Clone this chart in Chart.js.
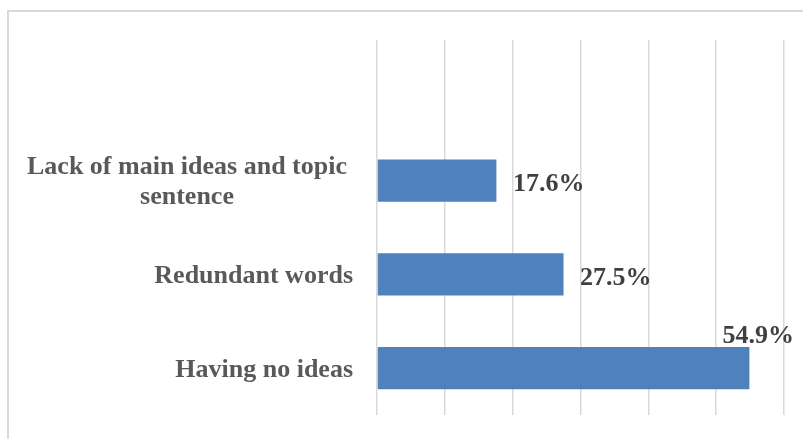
<!DOCTYPE html>
<html>
<head>
<meta charset="utf-8">
<script src="https://cdn.jsdelivr.net/npm/chart.js@4.4.1/dist/chart.umd.min.js"></script>
<style>
  html, body { margin: 0; padding: 0; background: #ffffff; overflow: hidden; width: 803px; height: 439px; }
  #frame { position: absolute; left: 7px; top: 10px; width: 900px; height: 600px;
           border-top: 2px solid #d9d9d9; border-left: 2px solid #d9d9d9; }
  #c { position: absolute; left: 0; top: 0; }
</style>
</head>
<body>
<div id="frame"></div>
<canvas id="c" width="803" height="439"></canvas>
<script>
// Data (top to bottom; first slot is an empty category in the original)
const categories = ["", ["Lack of main ideas and topic", "sentence"], "Redundant words", "Having no ideas"];
const values = [null, 17.6, 27.5, 54.9];
const axisTicks = [0, 10, 20, 30, 40, 50, 60];

const FONT = '"Liberation Serif", "Times New Roman", Times, serif';

const labelsPlugin = {
  id: 'customLabels',
  afterDatasetsDraw(chart) {
    const ctx = chart.ctx;
    const meta = chart.getDatasetMeta(0);
    const yScale = chart.scales.y;
    ctx.save();
    // category labels
    ctx.font = 'bold 26px ' + FONT;
    ctx.fillStyle = '#595959';
    categories.forEach((lab, i) => {
      if (!lab || (Array.isArray(lab) && lab.length === 0)) return;
      const cy = yScale.getPixelForValue(i);
      if (Array.isArray(lab)) {
        const widths = lab.map(l => ctx.measureText(l).width);
        const w = Math.max(...widths);
        const center = 347 - w / 2;
        const n = lab.length;
        ctx.textAlign = 'center';
        ctx.textBaseline = 'alphabetic';
        lab.forEach((l, k) => {
          const off = (k - (n - 1) / 2) * 30;
          ctx.fillText(l, center, cy + off + 8.6);
        });
      } else {
        ctx.textAlign = 'right';
        ctx.textBaseline = 'alphabetic';
        ctx.fillText(lab, 353, cy + 8.6);
      }
    });
    // data labels
    ctx.font = 'bold 26px ' + FONT;
    ctx.fillStyle = '#404040';
    ctx.textBaseline = 'alphabetic';
    meta.data.forEach((bar, i) => {
      const v = values[i];
      if (v === null || v === undefined) return;
      const txt = v.toFixed(1) + '%';
      const w = ctx.measureText(txt).width;
      const props = bar.getProps(['x', 'y', 'height'], true);
      ctx.textAlign = 'left';
      if (props.x + 16.5 + w <= chart.width - 8) {
        ctx.fillText(txt, props.x + 16.5, props.y + 10.5);
      } else {
        ctx.fillText(txt, props.x - 27, props.y - props.height / 2 - 4);
      }
    });
    ctx.restore();
  }
};

new Chart(document.getElementById('c'), {
  type: 'bar',
  data: {
    labels: categories,
    datasets: [{
      data: values,
      backgroundColor: '#4f81bd',
      borderWidth: 0,
      barPercentage: 0.45,
      categoryPercentage: 1.0
    }]
  },
  options: {
    indexAxis: 'y',
    responsive: false,
    animation: false,
    events: [],
    layout: { padding: { left: 377, right: 19, top: 40, bottom: 24 } },
    plugins: { legend: { display: false }, tooltip: { enabled: false } },
    scales: {
      x: {
        min: axisTicks[0],
        max: axisTicks[axisTicks.length - 1],
        afterBuildTicks(scale) { scale.ticks = axisTicks.map(v => ({ value: v })); },
        ticks: { display: false },
        grid: { color: '#d9d9d9', lineWidth: 1.5, drawTicks: false },
        border: { display: false }
      },
      y: {
        display: false
      }
    }
  },
  plugins: [labelsPlugin]
});
</script>
</body>
</html>
